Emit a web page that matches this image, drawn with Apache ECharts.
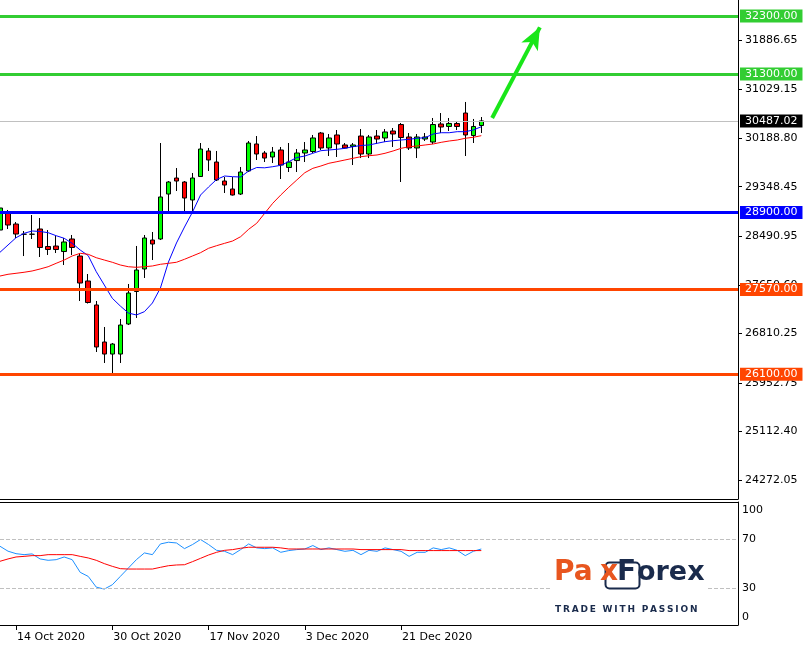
<!DOCTYPE html>
<html>
<head>
<meta charset="utf-8">
<script src="https://cdn.jsdelivr.net/npm/echarts@6/dist/echarts.min.js"></script>
<style>
html,body{margin:0;padding:0;background:#fff;}
#chart{width:806px;height:646px;}
</style>
</head>
<body>
<div id="chart"></div>
<script>
// ---- DATA ----
const dates = [
 "12 Oct 2020","13 Oct 2020","14 Oct 2020","15 Oct 2020","16 Oct 2020","19 Oct 2020","20 Oct 2020","21 Oct 2020","22 Oct 2020","23 Oct 2020",
 "26 Oct 2020","27 Oct 2020","28 Oct 2020","29 Oct 2020","30 Oct 2020","2 Nov 2020","3 Nov 2020","4 Nov 2020","5 Nov 2020","6 Nov 2020",
 "9 Nov 2020","10 Nov 2020","11 Nov 2020","12 Nov 2020","13 Nov 2020","16 Nov 2020","17 Nov 2020","18 Nov 2020","19 Nov 2020","20 Nov 2020",
 "23 Nov 2020","24 Nov 2020","25 Nov 2020","26 Nov 2020","27 Nov 2020","30 Nov 2020","1 Dec 2020","2 Dec 2020","3 Dec 2020","4 Dec 2020",
 "7 Dec 2020","8 Dec 2020","9 Dec 2020","10 Dec 2020","11 Dec 2020","14 Dec 2020","15 Dec 2020","16 Dec 2020","17 Dec 2020","18 Dec 2020",
 "21 Dec 2020","22 Dec 2020","23 Dec 2020","24 Dec 2020","25 Dec 2020","28 Dec 2020","29 Dec 2020","30 Dec 2020","31 Dec 2020","1 Jan 2021","4 Jan 2021"
];
const dateLabels = ["14 Oct 2020","30 Oct 2020","17 Nov 2020","3 Dec 2020","21 Dec 2020"];

const open = [28598,28910,28702,28525,28525,28616,28313,28321,28226,28443,
 28148,27716,27301,26660,26452,26452,26972,27534,27924,28425,
 28443,29221,29498,29429,29118,29524,29966,29775,29446,29308,
 29221,29620,30087,29931,29862,29983,29680,29800,29931,29957,
 30277,30018,30243,30070,30044,30225,29914,30225,30191,30312,
 30424,30208,30018,30173,30121,30433,30390,30442,30623,30234,30407];
const close = [28979,28685,28529,28525,28525,28296,28261,28261,28391,28296,
 27681,27344,26574,26452,26625,26954,27508,27906,28460,28356,
 29170,29429,29446,29152,29498,30000,29810,29464,29377,29204,
 29602,30104,29914,29844,29948,29723,29775,29931,29983,30191,
 30018,30191,30087,30018,30070,29914,30208,30173,30295,30260,
 30199,30018,30208,30208,30424,30381,30442,30390,30243,30390,30487.02];
const low = [28564,28616,28460,28148,28443,28131,28166,28200,27993,28166,
 27370,27326,26487,26297,26089,26297,26954,27076,27768,28079,
 28425,28910,29273,28910,28910,29516,29620,29446,29239,29195,
 29204,29602,29810,29775,29758,29481,29602,29602,29775,29931,
 29983,29879,29862,30009,29723,29844,29844,30087,30121,30035,
 29429,29983,29844,30139,30087,30277,30312,30329,29879,30104,30277];
const high = [29014,28945,28737,28581,28858,28806,28598,28494,28460,28512,
 28200,27837,27370,26920,26643,27058,27664,28322,28512,28564,
 30104,29446,29671,29446,29585,30104,30018,29966,29516,29516,
 29689,30139,30225,29966,30035,30035,30104,30000,30121,30243,
 30295,30260,30329,30104,30104,30346,30243,30329,30346,30364,
 30450,30277,30260,30277,30537,30623,30537,30485,30814,30520,30554];

const maFast = [28213,28339,28465,28541,28581,28573,28552,28500,28455,28368,
 28252,28154,27877,27647,27417,27283,27162,27128,27185,27335,
 27595,28045,28374,28650,28910,29204,29343,29473,29533,29521,
 29516,29620,29680,29675,29694,29718,29781,29853,29879,29926,
 29971,29983,29995,30012,30040,30061,30070,30099,30127,30144,
 30156,30168,30186,30196,30260,30282,30282,30300,30300,30329,30386];
const maSlow = [27802,27832,27849,27867,27889,27924,27963,28022,28079,28149,
 28195,28178,28119,28079,28040,27993,27963,27953,27963,27976,
 28005,28022,28040,28092,28149,28206,28282,28327,28368,28408,
 28483,28611,28715,28888,29061,29204,29338,29464,29590,29666,
 29706,29753,29781,29810,29839,29867,29884,29897,29926,29966,
 30012,30040,30052,30070,30087,30116,30139,30156,30186,30203,30231];

const oscMain = [64,60,58,57.2,57.8,53.7,52.6,53.1,55.3,53.1,
 42.8,39.5,30.8,29.2,32.7,39.5,46.3,53.1,58.6,57.2,
 65.9,67.3,66.7,62.1,65.4,69.5,65.4,60.7,59.9,57.2,
 61.3,65.9,62.7,62.1,62.7,59.1,60.5,61.3,61.8,64.6,
 61.3,62.7,61.3,59.9,60.7,57.2,60.7,59.9,62.7,61.3,
 59.9,55.8,59.1,59.1,62.7,61.3,62.7,60.7,56.4,59.9,61.8];
const oscSignal = [51.8,53.7,55.3,55.8,56.4,56.4,57.2,57.2,57.2,57.2,
 55.8,54.5,52.6,49.9,47.7,45.8,45.5,45.5,45.5,45.5,
 46.9,48.2,48.8,49.0,51.5,54.2,56.9,59.1,60.7,61.3,
 62.4,63.2,63.2,63.2,63.2,62.7,61.8,61.8,61.8,61.8,
 61.8,61.8,61.8,61.8,61.8,61.3,61.3,61.3,61.3,61.3,
 61.3,60.5,60.5,60.5,60.5,60.5,60.5,60.5,60.5,60.5,60.5];

const priceTicks = [31886.65,31029.15,30188.80,29348.45,28490.95,27650.60,26810.25,25952.75,25112.40,24272.05];
const oscTicks = [0,30,70,100];
const oscLevels = [30,70];

const levelValues = [32300,31300,30487.02,28900,27570,26100];
const levelColors = ['#32cd32','#32cd32','#c0c0c0','#0000ff','#ff4500','#ff4500'];
const levelLabelBg = ['#32cd32','#32cd32','#000000','#0000ff','#ff4500','#ff4500'];
const levelWidths = [3,3,1,3,3,3];

// arrow: [bar position, price]
const arrowFrom = [61.35, 30537];
const arrowTo = [67.3, 32106];

const emptySlots = 32;

// ---- BUILD ----
const categories = dates.concat(new Array(emptySlots).fill(''));
const lastSlot = categories.length - 1;
const candles = open.map((o, i) => [o, close[i], low[i], high[i]]);
const labelSet = new Set(dateLabels);
const showDate = (idx, val) => labelSet.has(val);
const FONT = 'DejaVu Sans';
const NAVY = '#1a2b4c', ORANGE = '#e8561f';
const THIN = '\u2009';
const taglineText = 'TRADE WITH PASSION'.split(' ').map(w => w.split('').join(THIN)).join(THIN + ' ' + THIN);

const levelData = levelValues.map((v, i) => ({
  yAxis: v,
  lineStyle: {color: levelColors[i], width: levelWidths[i], type: 'solid'},
  label: {
    show: true, position: 'end', distance: 2,
    formatter: v.toFixed(2),
    backgroundColor: levelLabelBg[i], color: '#fff',
    fontFamily: FONT, fontSize: 11, lineHeight: 12,
    padding: [1, 5, 0, 5]
  }
}));

const chart = echarts.init(document.getElementById('chart'));
const option = {
  animation: false,
  backgroundColor: '#fff',
  textStyle: {fontFamily: FONT},
  grid: [
    {left: 0, right: 68, top: 0, height: 499},
    {left: 0, right: 68, top: 502, height: 123}
  ],
  xAxis: [
    {type: 'category', gridIndex: 0, data: categories, boundaryGap: false,
     axisLine: {show: true, onZero: false, lineStyle: {color: '#000', width: 1}},
     axisTick: {show: false}, axisLabel: {show: false}, splitLine: {show: false}},
    {type: 'category', gridIndex: 1, data: categories, boundaryGap: false,
     axisLine: {show: true, onZero: false, lineStyle: {color: '#000', width: 1}},
     axisTick: {show: true, length: 5, interval: showDate, lineStyle: {color: '#000'}},
     axisLabel: {show: true, interval: showDate, align: 'left', margin: 7, fontSize: 11, color: '#000', fontFamily: FONT, padding: [0, 0, 0, 1]},
     splitLine: {show: false}},
    {type: 'category', gridIndex: 1, position: 'top', data: categories, boundaryGap: false,
     axisLine: {show: true, onZero: false, lineStyle: {color: '#000', width: 1}},
     axisTick: {show: false}, axisLabel: {show: false}, splitLine: {show: false}},
    {type: 'value', gridIndex: 0, position: 'top', min: 0, max: lastSlot, show: false,
     axisLine: {onZero: false}, splitLine: {show: false}}
  ],
  yAxis: [
    {type: 'value', gridIndex: 0, position: 'right', min: 23943.2, max: 32578.9,
     splitLine: {show: false},
     axisLine: {show: true, onZero: false, lineStyle: {color: '#000', width: 1}},
     axisTick: {show: true, length: 4, customValues: priceTicks, lineStyle: {color: '#000'}},
     axisLabel: {customValues: priceTicks, formatter: v => Number(v).toFixed(2), margin: 7, fontSize: 11, color: '#000', fontFamily: FONT}},
    {type: 'value', gridIndex: 1, position: 'right', min: 0, max: 100,
     splitLine: {show: false},
     axisLine: {show: true, onZero: false, lineStyle: {color: '#000', width: 1}},
     axisTick: {show: false},
     axisLabel: {customValues: oscTicks, margin: 4, fontSize: 11, color: '#000', fontFamily: FONT,
       formatter: v => v === 100 ? '{t|100}' : (v === 0 ? '{b|0}' : String(v)),
       rich: {
         t: {fontSize: 11, fontFamily: FONT, color: '#000', padding: [17, 0, 0, 0]},
         b: {fontSize: 11, fontFamily: FONT, color: '#000', padding: [0, 0, 15, 0]}
       }}}
  ],
  series: [
    {type: 'candlestick', xAxisIndex: 0, yAxisIndex: 0, data: candles, barWidth: 5,
     itemStyle: {color: '#00ff00', color0: '#ff0000', borderColor: '#000', borderColor0: '#000', borderWidth: 1}},
    {type: 'line', xAxisIndex: 0, yAxisIndex: 0, data: maFast, symbol: 'none',
     lineStyle: {color: '#0000ff', width: 1}},
    {type: 'line', xAxisIndex: 0, yAxisIndex: 0, data: maSlow, symbol: 'none',
     lineStyle: {color: '#ff0000', width: 1},
     markLine: {silent: true, symbol: 'none', z: 10, animation: false, data: levelData}},
    {type: 'line', xAxisIndex: 3, yAxisIndex: 0, data: [arrowFrom, arrowTo], symbol: 'none',
     lineStyle: {opacity: 0},
     markLine: {silent: true, z: 11, animation: false, symbol: ['none', 'arrow'], symbolSize: [14, 22],
       label: {show: false},
       lineStyle: {color: '#19e619', width: 4, type: 'solid'},
       data: [[{coord: arrowFrom}, {coord: arrowTo}]]}},
    {type: 'line', xAxisIndex: 1, yAxisIndex: 1, data: oscMain, symbol: 'none',
     lineStyle: {color: '#1e90ff', width: 1},
     markLine: {silent: true, symbol: 'none', animation: false,
       label: {show: false},
       lineStyle: {color: '#c0c0c0', type: 'dashed', width: 1},
       data: oscLevels.map(v => ({yAxis: v}))}},
    {type: 'line', xAxisIndex: 1, yAxisIndex: 1, data: oscSignal, symbol: 'none',
     lineStyle: {color: '#ff0000', width: 1}}
  ],
  graphic: [
    {type: 'rect', left: 551, top: 557, z: 100, shape: {width: 156, height: 60}, style: {fill: '#fff'}},
    {type: 'text', left: 554, top: 559, z: 101, style: {text: 'Pa', fill: ORANGE, font: 'bold 28px "DejaVu Sans"'}},
    {type: 'rect', left: 603, top: 560, z: 101, shape: {width: 34, height: 26, r: 4}, style: {fill: 'none', stroke: NAVY, lineWidth: 2}},
    {type: 'text', left: 600, top: 559, z: 102, style: {text: 'x', fill: ORANGE, font: 'bold 28px "DejaVu Sans"'}},
    {type: 'text', left: 617, top: 559, z: 102, style: {text: 'F', fill: NAVY, font: 'bold 28px "DejaVu Sans"'}},
    {type: 'text', left: 637, top: 559, z: 102, style: {text: 'orex', fill: NAVY, font: 'bold 27px "DejaVu Sans"'}},
    {type: 'text', left: 555, top: 605, z: 102, style: {text: taglineText, fill: NAVY, font: 'bold 9px "DejaVu Sans"'}}
  ]
};
chart.setOption(option);
</script>
</body>
</html>
